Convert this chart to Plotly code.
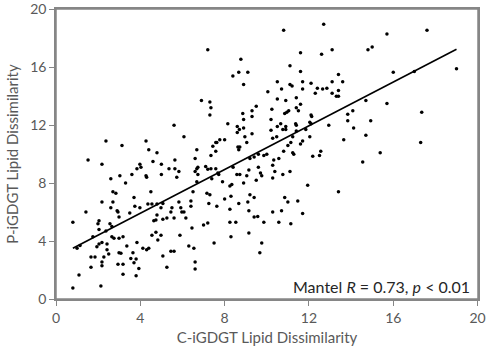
import plotly.graph_objects as go

# C-iGDGT (x) vs P-iGDGT (y) lipid dissimilarity
c_dissim = [
    7.2, 8.77, 8.67, 9.1, 8.39, 8.9, 10.05, 6.9, 7.3,
    10.8, 12.7, 11.6, 12.6, 13.1, 14.8, 15.0, 11.1, 11.6, 13.4, 10.5, 11.1, 11.2, 11.7, 12.1, 13.1, 13.6,
    10.7, 11.7, 12.4, 12.65, 12.85, 12.3, 13.4, 13.1, 13.3, 13.4, 10.5, 10.9, 11.4, 14.7, 11.6,
    15.7, 17.6, 16.0, 17.0, 19.0, 15.7,
    2.37, 1.52, 2.18, 3.13, 4.27, 4.4, 4.79, 4.6, 3.98, 4.03, 3.84, 3.6, 3.03, 2.6, 4.27, 4.3, 3.3,
    2.7, 2.84, 3.7, 4.5, 2.18, 2.7, 4.36, 4.55, 4.79,
    7.35, 7.3, 8.86, 9.3, 9.5, 8.9, 9.3, 5.6, 8.15, 8.6, 8.7, 8.6, 8.9, 6.07, 8.96, 9.3, 8.0, 7.77,
    7.63, 7.58, 9.05, 7.44, 7.58, 7.35, 6.68, 8.63, 8.67, 8.72, 6.6, 5.64, 5.0, 9.2, 9.4, 9.6, 9.86,
    10.0, 7.58, 7.1, 7.2, 6.68, 6.73, 6.6, 7.35, 8.4, 9.15, 9.6, 5.36, 5.64, 5.83, 5.73, 5.0, 6.73,
    7.68, 7.72, 8.58, 8.72, 9.05, 9.7, 9.76, 7.39, 6.68, 7.9, 8.34, 8.25, 8.9, 9.5, 6.5, 7.16, 7.3,
    8.3, 9.2, 9.4, 8.0, 5.07, 5.83, 6.4, 7.25, 8.67, 9.1,
    10.24, 10.85, 10.95, 11.04, 11.4, 11.5, 10.2, 12.1, 12.13, 10.66, 10.9, 10.5, 10.76, 10.9, 11.37,
    11.4, 12.04, 12.1, 11.4, 11.85, 10.2, 12.94, 13.84, 14.08, 13.84, 14.93, 14.12, 11.23, 10.47,
    12.04, 10.28, 14.7, 11.7, 11.6, 13.65, 11.0, 11.14, 10.8, 11.23, 11.28, 12.56, 12.5, 12.18,
    10.57, 10.33, 10.28, 14.55, 10.38, 10.76, 11.1, 10.28, 11.94, 13.4, 10.85, 11.47, 11.0, 15.38,
    17.35, 17.3,
    0.8, 1.42, 2.6, 2.9, 2.94, 1.99, 2.04, 2.56, 2.65, 2.99, 3.5, 3.74, 3.98, 2.04, 2.37, 1.75, 2.65,
    2.75, 2.99, 3.18, 1.14, 1.0, 2.18, 2.04, 1.94, 2.42, 2.42, 2.5, 2.27, 2.99, 3.08, 3.36, 3.84,
    4.12, 4.3, 4.4, 4.55, 3.65, 3.55, 3.8, 1.66, 1.85, 3.7, 2.18, 2.18, 2.94, 3.18, 1.66, 3.93, 3.18,
    1.09, 3.8, 2.13, 0.8, 4.64, 4.74, 4.79, 4.83, 4.74,
    4.98, 5.5, 5.45, 5.92, 5.97, 6.07, 6.4, 5.07, 5.26, 5.6, 6.16, 7.63, 8.25, 9.15, 9.4, 9.57, 9.86,
    8.25, 8.53, 7.0, 7.2, 6.45, 5.88, 4.98, 8.3, 9.15, 7.5, 6.3, 6.54, 5.45, 5.6, 9.76, 9.67, 5.07,
    6.6, 5.26, 6.6,
    10.28, 10.7, 11.7, 10.57, 11.14,
]
p_dissim = [
    17.2, 16.55, 15.66, 15.66, 15.4, 14.8, 14.3, 13.7, 13.6,
    18.55, 18.97, 17.0, 16.9, 17.2, 17.2, 17.4, 16.1, 15.7, 15.5, 15.0, 14.8, 14.7, 15.0, 14.9, 15.0, 15.0,
    14.5, 14.5, 14.55, 14.5, 14.55, 14.2, 14.4, 14.2, 14.0, 14.0, 13.8, 13.7, 13.9, 13.7, 13.45,
    18.3, 18.55, 15.66, 15.7, 15.9, 13.5,
    10.9, 9.6, 9.3, 10.6, 10.9, 10.3, 10.1, 9.5, 9.3, 9.1, 9.0, 8.6, 8.5, 8.3, 8.5, 8.4, 8.0,
    7.4, 7.3, 7.0, 7.4, 6.7, 6.7, 6.55, 6.55, 6.55,
    13.2, 12.7, 12.8, 13.0, 13.3, 12.4, 12.6, 12.0, 12.1, 11.9, 11.7, 11.5, 11.8, 11.2, 11.2, 11.4, 11.0, 11.0,
    10.8, 10.8, 10.8, 10.55, 10.2, 9.9, 10.3, 10.5, 10.3, 10.5, 9.7, 9.6, 9.3, 9.7, 9.8, 10.0, 9.9,
    10.0, 9.0, 9.15, 8.95, 9.0, 9.1, 8.8, 9.0, 9.1, 8.9, 9.1, 9.0, 9.0, 8.8, 8.4, 8.6, 8.6,
    8.7, 8.6, 8.6, 8.6, 8.5, 8.7, 8.5, 8.3, 8.1, 8.1, 7.9, 7.8, 8.0, 8.2, 7.4, 7.3, 7.2,
    7.1, 7.2, 7.0, 6.9, 6.6, 6.7, 6.76, 6.6, 6.6, 6.7,
    13.1, 12.8, 12.9, 13.0, 13.2, 13.0, 12.4, 12.7, 12.6, 12.1, 11.9, 11.9, 11.7, 11.7, 12.1,
    12.0, 12.2, 12.1, 11.6, 11.7, 11.65, 12.0, 12.75, 13.0, 12.3, 12.3, 11.8, 11.2, 11.2,
    11.2, 11.1, 11.3, 10.9, 10.7, 11.0, 10.6, 10.8, 10.2, 10.1, 10.0, 10.2, 9.9, 9.86,
    9.7, 9.6, 9.24, 9.45, 8.8, 8.6, 8.8, 8.35, 7.86, 7.4, 7.0, 6.76, 6.7, 10.1,
    12.9, 10.8,
    5.3, 6.0, 6.3, 6.1, 6.0, 5.2, 5.4, 5.2, 5.0, 5.66, 5.93, 6.4, 6.3, 4.8, 4.7, 4.3, 4.3,
    4.2, 4.2, 4.3, 3.7, 3.5, 3.9, 3.8, 3.6, 3.8, 3.4, 3.1, 2.9, 3.2, 3.15, 3.66, 3.9,
    3.5, 3.4, 3.5, 4.4, 3.2, 2.8, 2.76, 2.9, 2.9, 2.5, 2.55, 2.3, 2.4, 2.4, 2.2, 2.1, 1.7,
    1.66, 1.6, 0.9, 0.76, 5.4, 5.45, 5.8, 4.07, 4.6,
    6.3, 6.3, 6.0, 6.3, 6.0, 6.0, 6.4, 5.5, 5.6, 5.6, 5.6, 6.4, 6.2, 6.1, 5.66, 5.7, 5.3,
    5.3, 5.3, 5.1, 5.24, 4.9, 4.4, 4.4, 4.3, 4.55, 3.86, 3.66, 3.5, 3.3, 3.3, 3.86, 3.2, 2.97,
    2.55, 2.2, 2.07,
    6.0, 6.1, 5.9, 5.3, 5.2,
]

# Regression line end points
fit_x = [0.8, 19.0]
fit_y = [3.5, 17.24]

tick_vals = [0, 4, 8, 12, 16, 20]
tick_text = ["0", "4", "8", "12", "16", "20"]
x_title = "C-iGDGT Lipid Dissimilarity"
y_title = "P-iGDGT Lipid Dissimilarity"
note = "Mantel <i>R</i> = 0.73, <i>p</i> < 0.01"

FONT = "Lato, 'Open Sans', sans-serif"
GREY = "#595959"
AXIS = "#868686"

fig = go.Figure()
fig.add_trace(go.Scatter(
    x=c_dissim, y=p_dissim, mode="markers",
    marker=dict(color="black", size=3.5, line=dict(width=0)),
    showlegend=False, hoverinfo="skip",
))
fig.add_trace(go.Scatter(
    x=fit_x, y=fit_y, mode="lines",
    line=dict(color="black", width=1.6),
    showlegend=False, hoverinfo="skip",
))

axis_common = dict(
    range=[0, 20.02], tickvals=tick_vals, ticktext=tick_text,
    showgrid=False, zeroline=False,
    showline=True, linecolor=AXIS, linewidth=1.5, mirror=True,
    ticks="outside", ticklen=5, tickcolor=AXIS, tickwidth=1,
    tickfont=dict(family=FONT, size=14, color=GREY), automargin=False,
)
fig.update_xaxes(**axis_common, title=dict(text=x_title, font=dict(family=FONT, size=15, color=GREY), standoff=8))
fig.update_yaxes(**axis_common, title=dict(text=y_title, font=dict(family=FONT, size=15, color=GREY), standoff=8))

# plot frame
fig.add_shape(type="rect", xref="paper", yref="paper", x0=0, y0=0, x1=1, y1=1,
              line=dict(color=AXIS, width=1.5), layer="above")

fig.add_annotation(
    x=1, y=0, xref="paper", yref="paper", xanchor="right", yanchor="bottom",
    xshift=-6, yshift=1, text=note, showarrow=False,
    font=dict(family=FONT, size=16, color="#262626"),
)

fig.update_layout(
    width=490, height=355,
    margin=dict(l=56, r=12, t=9, b=56),
    paper_bgcolor="white", plot_bgcolor="white",
)

fig.write_html(
    "out.html",
    config={"displayModeBar": False},
    post_script="document.body.style.margin='0';document.body.style.padding='0';",
)
